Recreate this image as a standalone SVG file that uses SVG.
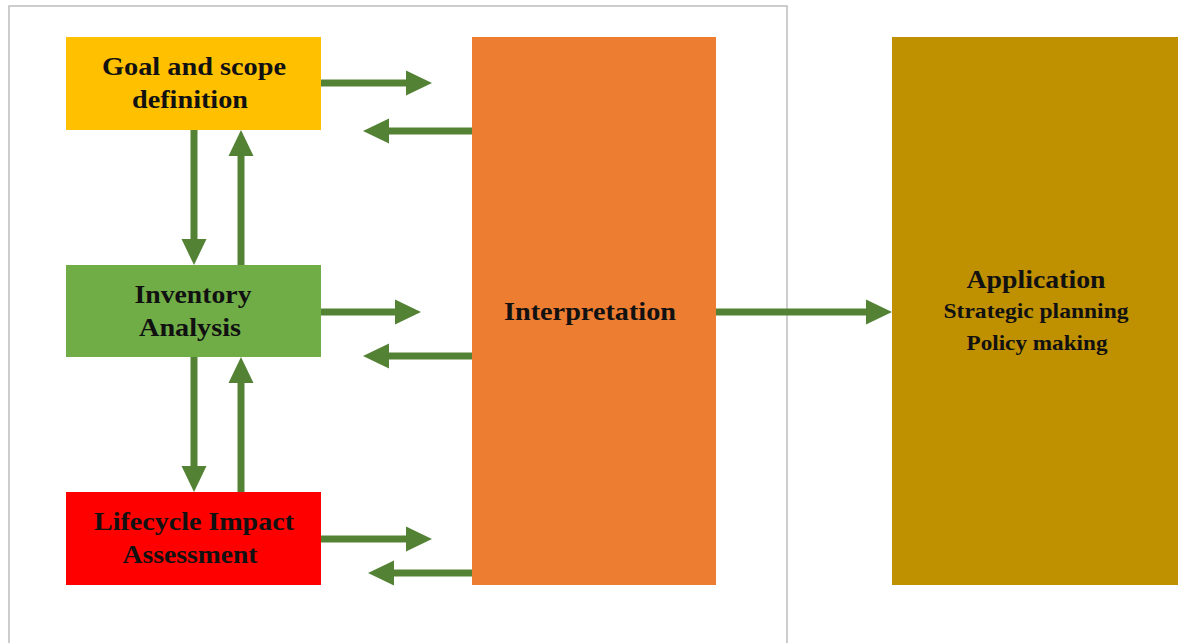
<svg xmlns="http://www.w3.org/2000/svg" width="1178" height="643" viewBox="0 0 1178 643">
<style>
.t{font-family:"Liberation Serif","Times New Roman",serif;font-weight:bold;fill:#111;text-anchor:middle;font-size:26px}
.c line{stroke:#548235;stroke-width:7;marker-end:url(#ah)}
</style>
<defs>
<marker id="ah" markerUnits="userSpaceOnUse" markerWidth="26" markerHeight="26" refX="1" refY="12.5" orient="auto" viewBox="0 0 26 25">
<path d="M0,0 L26,12.5 L0,25 Z" fill="#548235"/>
</marker>
</defs>
<rect x="0" y="0" width="1178" height="643" fill="#fff"/>
<path d="M9,643 V6 H787 V643" fill="none" stroke="#bdbdbd" stroke-width="1.5"/>
<g id="goal"><rect x="66" y="37" width="255" height="93" fill="#FFC000"/>
<text class="t" x="194" y="75" textLength="184" lengthAdjust="spacingAndGlyphs">Goal and scope</text>
<text class="t" x="190" y="108" textLength="116" lengthAdjust="spacingAndGlyphs">definition</text></g>
<g id="inventory"><rect x="66" y="265" width="255" height="92" fill="#70AD47"/>
<text class="t" x="193" y="303" textLength="117" lengthAdjust="spacingAndGlyphs">Inventory</text>
<text class="t" x="190" y="336" textLength="102" lengthAdjust="spacingAndGlyphs">Analysis</text></g>
<g id="lifecycle"><rect x="66" y="492" width="255" height="93" fill="#FF0000"/>
<text class="t" x="194" y="530" textLength="200" lengthAdjust="spacingAndGlyphs">Lifecycle Impact</text>
<text class="t" x="190" y="563" textLength="135" lengthAdjust="spacingAndGlyphs">Assessment</text></g>
<g id="interpretation"><rect x="472" y="37" width="244" height="548" fill="#ED7D31"/>
<text class="t" x="590" y="320" textLength="172" lengthAdjust="spacingAndGlyphs">Interpretation</text></g>
<g id="application"><rect x="892" y="37" width="286" height="548" fill="#BF9000"/>
<text class="t" x="1036" y="288" style="font-size:25px" textLength="139" lengthAdjust="spacingAndGlyphs">Application</text>
<text class="t" x="1036" y="318" style="font-size:21px" textLength="185" lengthAdjust="spacingAndGlyphs">Strategic planning</text>
<text class="t" x="1037" y="350" style="font-size:21px" textLength="141" lengthAdjust="spacingAndGlyphs">Policy making</text></g>
<g class="c" id="connectors">
<line x1="321" y1="83" x2="407" y2="83"/>
<line x1="472" y1="131" x2="388" y2="131"/>
<line x1="321" y1="312" x2="396" y2="312"/>
<line x1="472" y1="356" x2="388" y2="356"/>
<line x1="321" y1="539" x2="407" y2="539"/>
<line x1="472" y1="573" x2="393" y2="573"/>
<line x1="194" y1="130" x2="194" y2="240"/>
<line x1="241" y1="265" x2="241" y2="155"/>
<line x1="194" y1="357" x2="194" y2="467"/>
<line x1="241" y1="492" x2="241" y2="382"/>
<line x1="716" y1="312" x2="867" y2="312"/>
</g>
</svg>
